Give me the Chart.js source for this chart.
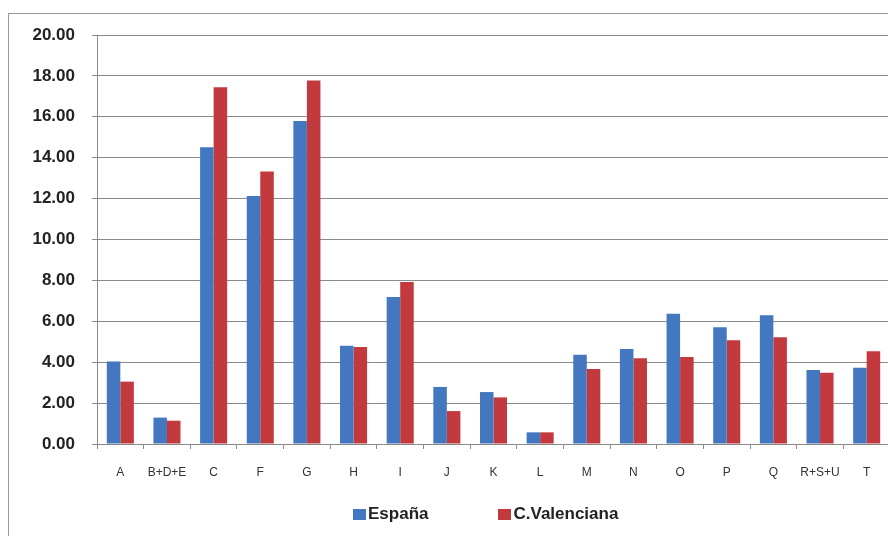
<!DOCTYPE html>
<html>
<head>
<meta charset="utf-8">
<script src="https://cdn.jsdelivr.net/npm/chart.js@4.4.0/dist/chart.umd.min.js"></script>
<style>
  body { margin: 0; overflow: hidden; background: #fff; }
  #frame { position: absolute; left: 8px; top: 13px; width: 900px; height: 540px;
           border-left: 1px solid #9a9a9a; border-top: 1px solid #9a9a9a; }
  #wrap { position: absolute; left: 0; top: 0; }
  #legend { position: absolute; left: 353px; top: 504px; display: flex; align-items: center;
            font: bold 17px "Liberation Sans", Arial, sans-serif; color: #222; }
  #legend .item { display: flex; align-items: center; margin-right: 70px; }
  #legend .box { width: 13px; height: 11px; margin-right: 2px; }
</style>
</head>
<body>
<div id="frame"></div>
<div id="wrap"><canvas id="sectorChart" width="900" height="536"></canvas></div>
<div id="legend"></div>
<script>
// sectores de actividad
const categories = ['A', 'B+D+E', 'C', 'F', 'G', 'H', 'I', 'J', 'K', 'L', 'M', 'N', 'O', 'P', 'Q', 'R+S+U', 'T'];

const espana = [4.03, 1.29, 14.51, 12.13, 15.79, 4.81, 7.19, 2.79, 2.54, 0.57, 4.37, 4.65, 6.37, 5.71, 6.29, 3.62, 3.73];
const cValenciana = [3.05, 1.14, 17.44, 13.32, 17.77, 4.74, 7.92, 1.61, 2.28, 0.57, 3.67, 4.19, 4.25, 5.07, 5.22, 3.49, 4.53];

const seriesNames = ['España', 'C.Valenciana'];
const seriesColors = ['#4377bf', '#c23a3d'];

const yMin = 0;
const yMax = 20;
const yStep = 2;

const ctx = document.getElementById('sectorChart').getContext('2d');
const chart = new Chart(ctx, {
  type: 'bar',
  data: {
    labels: categories,
    datasets: [
      { label: seriesNames[0], data: espana, backgroundColor: seriesColors[0] },
      { label: seriesNames[1], data: cValenciana, backgroundColor: seriesColors[1] }
    ]
  },
  options: {
    responsive: false,
    animation: false,
    devicePixelRatio: 1,
    layout: { padding: { top: 35, left: 0, right: 10, bottom: 0 } },
    datasets: { bar: { categoryPercentage: 0.58, barPercentage: 1.0 } },
    plugins: {
      legend: { display: false },
      tooltip: { enabled: false }
    },
    scales: {
      x: {
        grid: { display: true, drawOnChartArea: false, drawTicks: true, tickLength: 5, offset: true, color: '#8a8a8a' },
        border: { display: true, color: '#8a8a8a' },
        ticks: {
          padding: 16,
          maxRotation: 0,
          autoSkip: false,
          color: '#333',
          font: { family: '"Liberation Sans", Arial, sans-serif', size: 12 }
        },
        afterFit: (scale) => { scale.height = 92; }
      },
      y: {
        min: yMin,
        max: yMax,
        grid: { color: '#8a8a8a', tickLength: 5 },
        border: { display: true, color: '#8a8a8a' },
        ticks: {
          stepSize: yStep,
          padding: 17,
          color: '#222',
          font: { family: '"Liberation Sans", Arial, sans-serif', size: 17, weight: 'bold' },
          callback: (v) => v.toFixed(2)
        },
        afterFit: (scale) => { scale.width = 97; }
      }
    }
  }
});

// leyenda en html
const legendEl = document.getElementById('legend');
chart.data.datasets.forEach((ds) => {
  const item = document.createElement('div');
  item.className = 'item';
  const box = document.createElement('span');
  box.className = 'box';
  box.style.background = ds.backgroundColor;
  const txt = document.createElement('span');
  txt.textContent = ds.label;
  item.appendChild(box);
  item.appendChild(txt);
  legendEl.appendChild(item);
});
</script>
</body>
</html>
